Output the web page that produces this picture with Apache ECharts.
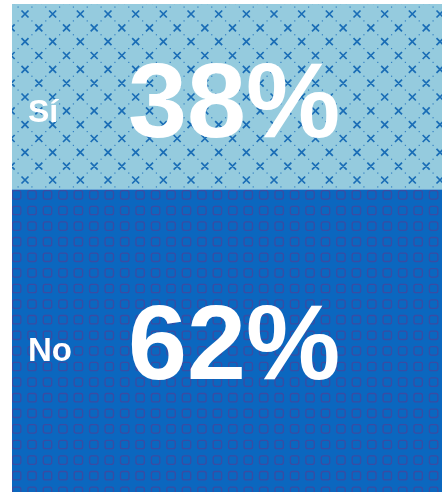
<!DOCTYPE html>
<html>
<head>
<meta charset="utf-8">
<script src="https://cdn.jsdelivr.net/npm/echarts@6/dist/echarts.min.js"></script>
<style>
  html, body { margin: 0; padding: 0; background: #fff; }
  #main { width: 442px; height: 492px; }
</style>
</head>
<body>
<div id="main"></div>
<script>
// answers, top to bottom
const answers = ['Sí', 'No']
const percents = [38, 62]

// light blue tile with small crosses and dotted diagonals
function crossTile() {
  const T = 83, P = T / 3
  const c = document.createElement('canvas')
  c.width = T; c.height = T
  const ctx = c.getContext('2d')
  ctx.fillStyle = '#95cbde'
  ctx.fillRect(0, 0, T, T)
  for (let a = -2; a <= 8; a++) {
    for (let b = -2; b <= 8; b++) {
      if ((a + b) % 2 !== 0) continue
      const x = 25 + a * P / 2, y = 14 + b * P / 2
      ctx.strokeStyle = '#1a6db6'
      ctx.lineWidth = 1.7
      ctx.beginPath()
      ctx.moveTo(x - 3.5, y - 3.5); ctx.lineTo(x + 3.5, y + 3.5)
      ctx.moveTo(x + 3.5, y - 3.5); ctx.lineTo(x - 3.5, y + 3.5)
      ctx.stroke()
      ctx.fillStyle = '#3580c2'
      ctx.fillRect(x + P / 4 - 0.6, y + P / 4 - 0.6, 1.2, 1.2)
      ctx.fillRect(x - P / 4 - 0.6, y + P / 4 - 0.6, 1.2, 1.2)
    }
  }
  return c
}

// dark blue tile with rounded square outlines
function squareTile() {
  const W = 139, H = 78, px = W / 9, py = H / 5
  const c = document.createElement('canvas')
  c.width = W; c.height = H
  const ctx = c.getContext('2d')
  ctx.fillStyle = '#0b67bf'
  ctx.fillRect(0, 0, W, H)
  ctx.strokeStyle = '#3a4ca3'
  ctx.lineWidth = 1.3
  for (let i = -1; i <= 9; i++) {
    for (let j = -1; j <= 5; j++) {
      const x = 11.7 + i * px + 0.7, y = 2.8 + j * py + 0.7, s = 8.4, r = 2
      ctx.beginPath()
      ctx.moveTo(x + r, y)
      ctx.arcTo(x + s, y, x + s, y + s, r)
      ctx.arcTo(x + s, y + s, x, y + s, r)
      ctx.arcTo(x, y + s, x, y, r)
      ctx.arcTo(x, y, x + s, y, r)
      ctx.closePath()
      ctx.stroke()
    }
  }
  return c
}

const tiles = [crossTile(), squareTile()]
// label tweaks per bar: whole label shift, extra drop of the answer word
const labelOffset = [[0, 11], [0, 9]]
const namePad = [[10, 0, 0, 0], [4, 0, 0, 0]]

const chartDom = document.getElementById('main')
const myChart = echarts.init(chartDom)
const option = {
  animation: false,
  grid: { left: 12, right: 0, top: 4, bottom: 0 },
  xAxis: { type: 'category', data: [''], show: false },
  yAxis: { type: 'value', min: 0, max: 100, inverse: true, show: false },
  series: answers.map((name, i) => ({
    name: name,
    type: 'bar',
    stack: 'total',
    barWidth: '100%',
    data: [percents[i]],
    itemStyle: { color: { image: tiles[i], repeat: 'repeat' } },
    label: {
      show: true,
      position: 'insideLeft',
      distance: 16,
      offset: labelOffset[i],
      formatter: p => '{n|' + p.seriesName + '}{v|' + p.value + '%}',
      rich: {
        n: {
          fontFamily: 'Liberation Sans', fontWeight: 'bold', fontSize: i === 0 ? 32 : 33,
          color: '#fff', width: 100, padding: namePad[i]
        },
        v: {
          fontFamily: 'Liberation Sans', fontWeight: 'bold', fontSize: 106,
          color: '#fff'
        }
      }
    }
  }))
}
option && myChart.setOption(option)
</script>
</body>
</html>
